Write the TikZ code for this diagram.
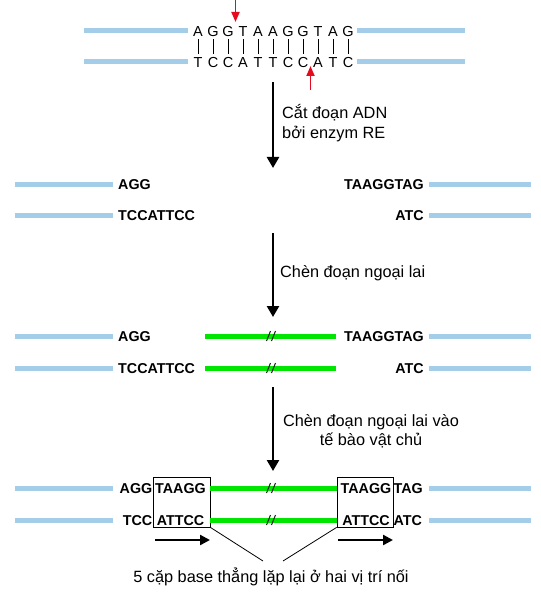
\documentclass[tikz,border=0pt]{standalone}
\usepackage{fontspec}
\setmainfont{Liberation Sans}
\usetikzlibrary{arrows.meta}
\definecolor{dnablue}{RGB}{164,205,233}
\definecolor{insgreen}{RGB}{0,230,0}
\definecolor{cutred}{RGB}{230,10,30}
\begin{document}
\begin{tikzpicture}[x=1bp,y=-1bp,
  strand/.style={line width=5bp, dnablue},
  insert/.style={line width=5bp, insgreen},
  seqtop/.style={inner sep=0pt, font=\fontsize{14.5bp}{17bp}\selectfont, text height=10.4bp, text depth=0pt},
  seq/.style={inner sep=0pt, font=\bfseries\fontsize{14.3bp}{17bp}\selectfont, text height=10.2bp, text depth=0pt},
  lbl/.style={inner sep=0pt, font=\fontsize{16.3bp}{20bp}\selectfont},
  bigarrow/.style={line width=2.5bp, -{Triangle[length=11bp,width=12bp]}},
  smallarrow/.style={line width=2.3bp, -{Triangle[length=10bp,width=10bp]}},
  cutarrow/.style={line width=1.8bp, cutred, -{Triangle[length=10bp,width=8bp]}},
  repeatbox/.style={draw, line width=0.8bp, minimum height=50bp, inner sep=0pt},
  brk/.style={line width=1.1bp, black!85},
  pairbar/.style={line width=0.8bp, shorten >=3bp, shorten <=3bp}
]
\useasboundingbox (0,0) rectangle (541,600);

% ---------- row 1: original DNA ----------
\foreach \L [count=\i from 0] in {A,G,G,T,A,A,G,G,T,A,G}
  \node[seqtop] (t\i) at ({198+15*\i},31) {\L};
\foreach \L [count=\i from 0] in {T,C,C,A,T,T,C,C,A,T,C}
  \node[seqtop] (b\i) at ({198+15*\i},62.5) {\L};
\foreach \i in {0,...,10}
  \draw[pairbar] (t\i.south) -- (b\i.north);
\coordinate (r1a) at (84,31);  \coordinate (r1b) at (188,31);
\coordinate (r1c) at (357,31); \coordinate (r1d) at (465,31);
\coordinate (r1e) at (84,62);  \coordinate (r1f) at (188,62);
\coordinate (r1g) at (357,62); \coordinate (r1h) at (465,62);
\draw[strand] (r1a) -- (r1b); \draw[strand] (r1c) -- (r1d);
\draw[strand] (r1e) -- (r1f); \draw[strand] (r1g) -- (r1h);
% cut sites
\coordinate (c1s) at (235.5,0);  \coordinate (c1e) at (235.5,22);
\coordinate (c2s) at (310.5,90); \coordinate (c2e) at (310.5,66);
\draw[cutarrow] (c1s) -- (c1e);
\draw[cutarrow] (c2s) -- (c2e);

% ---------- step arrow 1 ----------
\coordinate (a1s) at (273,82); \coordinate (a1e) at (273,168);
\draw[bigarrow] (a1s) -- (a1e);
\node[lbl, anchor=west, align=left] (l1) at (282,123) {Cắt đoạn ADN\\bởi enzym RE};

% ---------- row 2: cut DNA ----------
\foreach \y/\n in {184/p, 215/q} {
  \coordinate (\n L1) at (15,\y);  \coordinate (\n L2) at (113,\y);
  \coordinate (\n R1) at (429,\y); \coordinate (\n R2) at (531,\y);
  \draw[strand] (\n L1) -- (\n L2);
  \draw[strand] (\n R1) -- (\n R2);
}
\node[seq, anchor=west] (s2a) at (118,184) {AGG};
\node[seq, anchor=west] (s2b) at (118,215) {TCCATTCC};
\node[seq, anchor=east] (s2c) at (424,184) {TAAGGTAG};
\node[seq, anchor=east] (s2d) at (424,215) {ATC};

% ---------- step arrow 2 ----------
\coordinate (a2s) at (273,233); \coordinate (a2e) at (273,317);
\draw[bigarrow] (a2s) -- (a2e);
\node[lbl, anchor=west] (l2) at (280,273) {Chèn đoạn ngoại lai};

% ---------- row 3: with insert ----------
\foreach \y/\n in {336/u, 368/v} {
  \coordinate (\n L1) at (15,\y);  \coordinate (\n L2) at (113,\y);
  \coordinate (\n R1) at (429,\y); \coordinate (\n R2) at (531,\y);
  \coordinate (\n G1) at (205,\y); \coordinate (\n G2) at (336,\y);
  \draw[strand] (\n L1) -- (\n L2);
  \draw[strand] (\n R1) -- (\n R2);
  \draw[insert] (\n G1) -- (\n G2);
  \draw[brk] (266.5,\y+5) -- (270.5,\y-5);
  \draw[brk] (271.5,\y+5) -- (275.5,\y-5);
}
\node[seq, anchor=west] (s3a) at (118,336) {AGG};
\node[seq, anchor=west] (s3b) at (118,368) {TCCATTCC};
\node[seq, anchor=east] (s3c) at (424,336) {TAAGGTAG};
\node[seq, anchor=east] (s3d) at (424,368) {ATC};

% ---------- step arrow 3 ----------
\coordinate (a3s) at (273,387); \coordinate (a3e) at (273,471);
\draw[bigarrow] (a3s) -- (a3e);
\node[lbl, align=center, font=\fontsize{16.3bp}{18.5bp}\selectfont] (l3) at (371,431) {Chèn đoạn ngoại lai vào\\tế bào vật chủ};

% ---------- row 4: integrated ----------
\node[repeatbox, minimum width=57bp] (box1) at (181.5,502) {};
\node[repeatbox, minimum width=56bp] (box2) at (365,502) {};
\foreach \y/\n in {488/w, 520/z} {
  \coordinate (\n L1) at (15,\y);  \coordinate (\n L2) at (113,\y);
  \coordinate (\n R1) at (429,\y); \coordinate (\n R2) at (531,\y);
  \coordinate (\n G1) at (210,\y); \coordinate (\n G2) at (337,\y);
  \draw[strand] (\n L1) -- (\n L2);
  \draw[strand] (\n R1) -- (\n R2);
  \draw[insert] (\n G1) -- (\n G2);
  \draw[brk] (266.5,\y+5) -- (270.5,\y-5);
  \draw[brk] (271.5,\y+5) -- (275.5,\y-5);
}
\node[seq, anchor=east] (s4a) at (152.5,488) {AGG};
\node[seq] (s4b) at (180.5,488) {TAAGG};
\node[seq, anchor=east] (s4c) at (152.5,520) {TCC};
\node[seq] (s4d) at (180.5,520) {ATTCC};
\node[seq] (s4e) at (366,488) {TAAGG};
\node[seq, anchor=west] (s4f) at (393.5,488) {TAG};
\node[seq] (s4g) at (366,520) {ATTCC};
\node[seq, anchor=west] (s4h) at (393.5,520) {ATC};

% direction arrows
\coordinate (d1s) at (155,540); \coordinate (d1e) at (210,540);
\coordinate (d2s) at (338,540); \coordinate (d2e) at (393,540);
\draw[smallarrow] (d1s) -- (d1e);
\draw[smallarrow] (d2s) -- (d2e);

% pointer lines and caption
\coordinate (p1) at (263,561); \coordinate (p2) at (283,561);
\draw[line width=0.8bp] (box1.south east) -- (p1);
\draw[line width=0.8bp] (box2.south west) -- (p2);
\node[lbl] (cap) at (271,577) {5 cặp base thẳng lặp lại ở hai vị trí nối};
\end{tikzpicture}
\end{document}
